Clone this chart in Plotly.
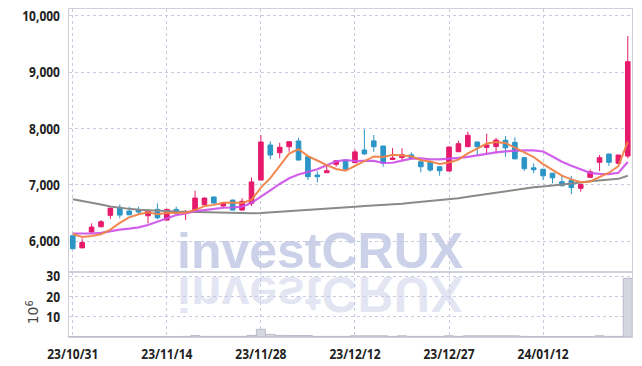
import plotly.graph_objects as go

dates = ["23/10/31","23/11/01","23/11/02","23/11/03","23/11/06","23/11/07","23/11/08","23/11/09","23/11/10","23/11/13",
         "23/11/14","23/11/15","23/11/16","23/11/17","23/11/20","23/11/21","23/11/22","23/11/23","23/11/24","23/11/27",
         "23/11/28","23/11/29","23/11/30","23/12/01","23/12/04","23/12/05","23/12/06","23/12/07","23/12/08","23/12/11",
         "23/12/12","23/12/13","23/12/14","23/12/15","23/12/18","23/12/19","23/12/20","23/12/21","23/12/22","23/12/26",
         "23/12/27","23/12/28","24/01/02","24/01/03","24/01/04","24/01/05","24/01/08","24/01/09","24/01/10","24/01/11",
         "24/01/12","24/01/15","24/01/16","24/01/17","24/01/18","24/01/19","24/01/22","24/01/23","24/01/24","24/01/25"]

open_ = [6095,5880,6160,6255,6457,6599,6533,6563,6450,6563,
         6373,6563,6503,6521,6645,6782,6622,6728,6551,6670,
         7083,7705,7568,7675,7776,7497,7172,7213,7362,7438,
         7391,7616,7778,7687,7448,7483,7530,7408,7415,7320,
         7243,7586,7675,7758,7663,7680,7790,7752,7480,7300,
         7276,7205,7053,7075,6936,7131,7398,7545,7380,7509]
high = [6100,6045,6315,6373,6590,6652,6610,6610,6545,6670,
        6575,6610,6551,6894,6775,6795,6690,6735,6759,7131,
        7882,7770,7746,7770,7834,7505,7238,7362,7440,7445,
        7628,7983,7882,7690,7651,7646,7575,7412,7420,7325,
        7680,7781,7941,7765,7906,7830,7864,7841,7490,7380,
        7280,7210,7154,7154,7010,7273,7527,7550,7530,9639]
low = [5864,5876,6150,6244,6391,6404,6460,6475,6315,6386,
       6370,6480,6373,6515,6635,6670,6615,6545,6545,6622,
       7080,7451,7469,7586,7438,7083,7043,7210,7320,7273,
       7385,7527,7583,7320,7440,7438,7460,7220,7231,7160,
       7240,7580,7670,7527,7545,7557,7497,7450,7243,7202,
       7083,7025,6975,6830,6876,7120,7243,7332,7370,7469]
close = [5864,5975,6249,6343,6586,6462,6467,6515,6533,6414,
         6563,6492,6521,6764,6764,6675,6681,6551,6705,7050,
         7758,7527,7665,7763,7438,7142,7142,7249,7426,7276,
         7583,7548,7675,7380,7474,7530,7474,7320,7261,7249,
         7669,7728,7877,7675,7705,7793,7655,7459,7285,7267,
         7158,7124,6982,6950,7007,7231,7480,7398,7527,9183]

ma_short = [6125,6075,6090,6120,6203,6323,6421,6475,6513,6478,
            6498,6503,6505,6551,6621,6643,6681,6687,6675,6732,
            6949,7118,7341,7553,7630,7507,7430,7347,7279,7247,
            7335,7416,7502,7492,7532,7521,7507,7436,7412,7367,
            7395,7445,7557,7640,7731,7756,7741,7657,7579,7492,
            7365,7259,7163,7096,7044,7059,7130,7213,7329,7764]
ma_mid = [6135,6130,6135,6145,6180,6205,6220,6245,6285,6341,
          6411,6462,6490,6532,6550,6571,6592,6596,6613,6677,
          6796,6900,7014,7114,7181,7228,7274,7344,7416,7439,
          7421,7423,7424,7386,7390,7428,7462,7469,7452,7449,
          7458,7476,7496,7526,7549,7575,7593,7607,7610,7611,
          7590,7500,7410,7338,7268,7212,7194,7188,7212,7404]
ma_long = [6741,6715,6685,6650,6615,6590,6572,6558,6548,6538,
           6532,6527,6523,6518,6510,6503,6497,6493,6492,6493,
           6500,6510,6520,6530,6538,6548,6560,6575,6585,6598,
           6610,6622,6630,6640,6650,6665,6680,6695,6705,6718,
           6735,6760,6785,6810,6840,6865,6890,6915,6935,6955,
           6970,6985,7000,7015,7040,7060,7075,7090,7105,7160]
volume = [0.2,0.2,0.2,0.2,0.2,0.2,0.2,0.2,0.2,0.2,
          0.2,0.2,0.3,0.7,0.3,0.3,0.3,0.3,0.3,0.8,
          3.8,1.3,0.8,0.7,0.7,0.7,0.3,0.3,0.3,0.3,
          0.6,0.6,0.6,0.6,0.3,0.6,0.3,0.3,0.3,0.3,
          0.6,0.3,0.6,0.6,0.6,0.6,0.6,0.6,0.3,0.2,
          0.2,0.2,0.2,0.2,0.2,0.2,0.6,0.3,0.3,28.9]

tick_dates = ["23/10/31","23/11/14","23/11/28","23/12/12","23/12/27","24/01/12"]
price_ticks = [6000,7000,8000,9000,10000]
vol_ticks = [10,20,30]

UP = "#e61a6b"
DOWN = "#2b95c7"
GRID = "#c9cae0"
AXL = "#cfd0dc"
FONT = "Open Sans, Roboto, sans-serif"

fig = go.Figure()
fig.add_trace(go.Scatter(x=dates, y=ma_long, mode="lines", line=dict(color="#8a8a8a", width=2),
                         xaxis="x", yaxis="y", hoverinfo="skip"))
fig.add_trace(go.Candlestick(x=dates, open=open_, high=high, low=low, close=close,
                             increasing=dict(line=dict(color=UP, width=1), fillcolor=UP),
                             decreasing=dict(line=dict(color=DOWN, width=1), fillcolor=DOWN),
                             whiskerwidth=0, xaxis="x", yaxis="y"))
fig.add_trace(go.Scatter(x=dates, y=ma_mid, mode="lines", line=dict(color="rgba(204,80,232,0.9)", width=2.2),
                         xaxis="x", yaxis="y", hoverinfo="skip"))
fig.add_trace(go.Scatter(x=dates, y=ma_short, mode="lines", line=dict(color="rgba(240,130,70,0.95)", width=2),
                         xaxis="x", yaxis="y", hoverinfo="skip"))
fig.add_trace(go.Bar(x=dates, y=volume, marker=dict(color="#d6d6e0", line=dict(color="#babac8", width=1)),
                     xaxis="x2", yaxis="y2"))

tickfont = dict(family=FONT, size=15, color="#222222", weight="bold")
xr = [-0.4, 59.45]

fig.update_layout(
    width=642, height=366,
    margin=dict(l=69, r=10, t=9, b=29, autoexpand=False),
    paper_bgcolor="white", plot_bgcolor="white",
    showlegend=False, bargap=0.04,
    xaxis=dict(type="category", domain=[0, 1], anchor="y", range=xr, autorange=False,
               rangeslider=dict(visible=False), showticklabels=False, automargin=False,
               tickmode="array", tickvals=tick_dates,
               showgrid=True, gridcolor=GRID, griddash="dot", gridwidth=1,
               showline=True, linecolor=AXL, linewidth=1, mirror=True, zeroline=False),
    xaxis2=dict(type="category", domain=[0, 1], anchor="y2", range=xr, autorange=False,
                tickmode="array", tickvals=tick_dates, ticktext=tick_dates, automargin=False,
                tickfont=tickfont, ticks="", ticklabelstandoff=3,
                showgrid=True, gridcolor=GRID, griddash="dot", gridwidth=1,
                showline=True, linecolor=AXL, linewidth=1, mirror=True, zeroline=False),
    yaxis=dict(domain=[0.198, 1], anchor="x", range=[5451, 10118], autorange=False, automargin=False,
               tickmode="array", tickvals=price_ticks, tickformat=",d",
               tickfont=tickfont, ticks="", ticklabelstandoff=5,
               showgrid=True, gridcolor=GRID, griddash="dot", gridwidth=1,
               showline=True, linecolor=AXL, linewidth=1, mirror=True, zeroline=False),
    yaxis2=dict(domain=[0, 0.198], anchor="x2", range=[0, 32], autorange=False, automargin=False,
                tickmode="array", tickvals=vol_ticks,
                tickfont=tickfont, ticks="", ticklabelstandoff=5,
                showgrid=True, gridcolor=GRID, griddash="dot", gridwidth=1,
                showline=True, linecolor=AXL, linewidth=1, mirror=True, zeroline=False),
    annotations=[
        dict(text="investCRUX", xref="paper", yref="paper", x=0.445, y=0.262,
             xanchor="center", yanchor="middle", showarrow=False,
             font=dict(family="Liberation Sans, Arial, sans-serif", size=50, weight="bold",
                       color="rgba(190,198,226,0.8)")),
        dict(text="investCRUX", xref="paper", yref="paper", x=0.445, y=0.132,
             xanchor="center", yanchor="middle", showarrow=False,
             font=dict(family="Liberation Sans, Arial, sans-serif", size=50, weight="bold",
                       color="rgba(200,206,230,0.5)")),
        dict(text="10<sup>6</sup>", xref="paper", yref="paper", x=-0.064, y=0.075,
             xanchor="center", yanchor="middle", showarrow=False, textangle=-90,
             font=dict(family="DejaVu Sans, sans-serif", size=14, color="#444444")),
    ],
)

post = """
document.body.style.margin = '0';
document.body.style.padding = '0';
var gd = document.getElementById('{plot_id}');
function flip(){
  var g = gd.querySelector('.annotation[data-index="1"] text');
  if (g) {
    g.style.transformBox = 'fill-box';
    g.style.transformOrigin = 'center';
    g.style.transform = 'scaleY(-1)';
  }
}
function condense(){
  gd.querySelectorAll('.xtick text, .x2tick text, .ytick text, .y2tick text').forEach(function(t){
    t.removeAttribute('textLength');
    t.removeAttribute('lengthAdjust');
    var w0 = t.getComputedTextLength();
    if (w0 > 0) {
      t.setAttribute('lengthAdjust', 'spacingAndGlyphs');
      t.setAttribute('textLength', (w0 * 0.8).toFixed(2));
    }
  });
}
flip(); condense();
if (gd.on) { gd.on('plotly_afterplot', function(){ flip(); condense(); }); }
"""

fig.write_html("out.html", post_script=post, config={"displayModeBar": False})
